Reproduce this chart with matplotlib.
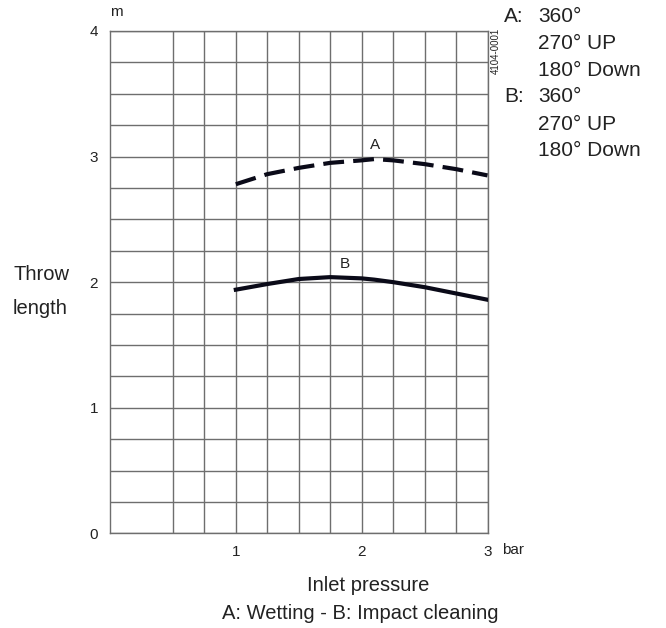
import numpy as np
import matplotlib
matplotlib.use("Agg")
import matplotlib.pyplot as plt

# values
pressure = [1.0, 1.25, 1.5, 1.75, 2.0, 2.1, 2.25, 2.5, 2.75, 3.0]
throw_a = [2.78, 2.86, 2.91, 2.95, 2.97, 2.98, 2.97, 2.94, 2.90, 2.85]
throw_b = [1.94, 1.985, 2.025, 2.04, 2.03, 2.02, 2.0, 1.96, 1.91, 1.86]

x_ticks = [1, 2, 3]
x_labels = ["1", "2", "3"]
y_ticks = [0, 1, 2, 3, 4]
x_minor = [0.5, 0.75, 1.25, 1.5, 1.75, 2.25, 2.5, 2.75]
y_minor = [0.25, 0.5, 0.75, 1.25, 1.5, 1.75, 2.25, 2.5, 2.75, 3.25, 3.5, 3.75]

legend_keys = ["A:", "", "", "B:", "", ""]
legend_vals = ["360°", "270° UP", "180° Down", "360°", "270° UP", "180° Down"]

txt = "#222222"
gridc = "#6e6e6e"
plt.rcParams["font.family"] = ["Liberation Sans", "DejaVu Sans"]

W, H = 666, 628
fig = plt.figure(figsize=(6.66, 6.28), dpi=100)
ax = fig.add_axes([110 / W, 1 - 533.3 / H, 377.5 / W, 502.3 / H])

ax.set_xlim(0, 3)
ax.set_ylim(0, 4)
ax.set_xticks(x_ticks)
ax.set_xticklabels(x_labels)
ax.set_yticks(y_ticks)
ax.set_xticks(x_minor, minor=True)
ax.set_yticks(y_minor, minor=True)
ax.tick_params(which="both", length=0, labelsize=11, colors=txt)
ax.tick_params(axis="x", pad=8.5)
ax.tick_params(axis="y", pad=8.5)
ax.grid(which="both", color=gridc, lw=1.0)
ax.set_axisbelow(True)
for s in ax.spines.values():
    s.set_color(gridc)
    s.set_linewidth(1.0)

# A dashed, B solid
ax.plot(pressure, throw_a, color="#0a0a18", lw=3.0, ls=(0, (5, 2.2)),
        solid_capstyle="butt", dash_capstyle="butt", zorder=3)
ax.plot(pressure, throw_b, color="#0a0a18", lw=3.0, zorder=3)

ax.text(2.107, 3.06, "A", ha="center", va="baseline", fontsize=11, color=txt)
ax.text(1.868, 2.11, "B", ha="center", va="baseline", fontsize=11, color=txt)

def ftext(x, y, s, **kw):
    fig.text(x / W, 1 - y / H, s, color=txt, **kw)

ftext(116, 12.5, "m", ha="center", va="center", fontsize=11)
ftext(502, 550, "bar", ha="left", va="center", fontsize=11)
ftext(13, 280, "Throw", ha="left", va="baseline", fontsize=14.5)
ftext(13, 314, "length", ha="left", va="baseline", fontsize=14.5)
ftext(368, 591, "Inlet pressure", ha="center", va="baseline", fontsize=14.5)
ftext(360, 619, "A: Wetting - B: Impact cleaning", ha="center", va="baseline", fontsize=14.5)
ftext(496, 50.5, "4104-0001", rotation=90, ha="center", va="center", fontsize=7)

baselines = [22, 49, 75.5, 102.5, 129.5, 156]
for yy, k, v in zip(baselines, legend_keys, legend_vals):
    if k:
        ftext(504, yy, k, ha="left", va="baseline", fontsize=15)
    ftext(538, yy, v, ha="left", va="baseline", fontsize=15)

fig.savefig("out.png", dpi=100)
